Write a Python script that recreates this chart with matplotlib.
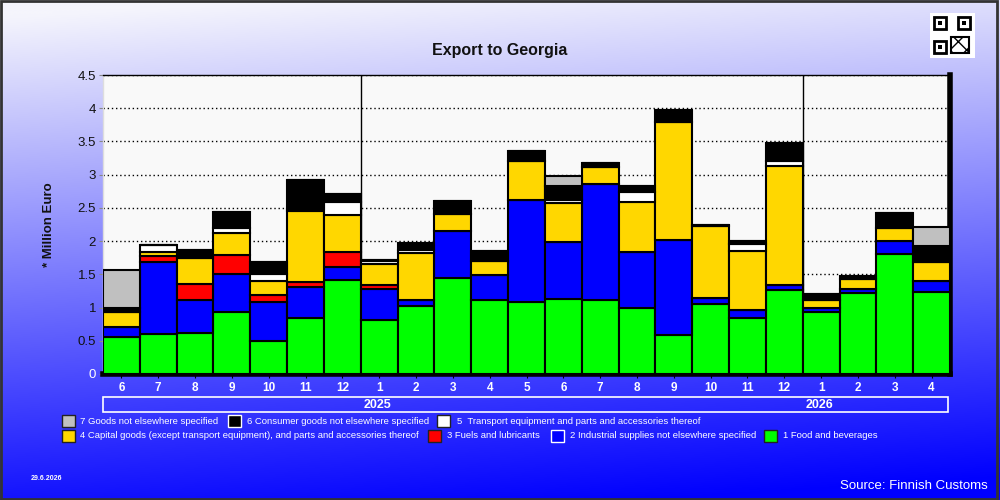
import numpy as np
import matplotlib
matplotlib.use("Agg")
import matplotlib.pyplot as plt
from matplotlib.patches import Rectangle

plt.rcParams['font.family'] = ['Liberation Sans', 'DejaVu Sans']

months = ['6', '7', '8', '9', '10', '11', '12',
          '1', '2', '3', '4', '5', '6', '7', '8', '9', '10', '11', '12',
          '1', '2', '3', '4']
years = ['2025', '2026']
year_start_idx = [7, 19]

food =       [0.56, 0.60, 0.61, 0.93, 0.49, 0.84, 1.41, 0.81, 1.02, 1.44, 1.11, 1.08, 1.125, 1.11, 1.00, 0.58, 1.05, 0.84, 1.26, 0.93, 1.215, 1.80, 1.23]
industrial = [0.14, 1.08, 0.51, 0.57, 0.59, 0.47, 0.20, 0.47, 0.09, 0.71, 0.38, 1.54, 0.86, 1.75, 0.83, 1.43, 0.10, 0.13, 0.08, 0.06, 0.065, 0.20, 0.17]
fuels =      [0.00, 0.09, 0.23, 0.29, 0.105, 0.07, 0.22, 0.06, 0.00, 0.00, 0.00, 0.00, 0.00, 0.00, 0.00, 0.00, 0.00, 0.00, 0.00, 0.00, 0.00, 0.00, 0.00]
capital =    [0.24, 0.06, 0.39, 0.33, 0.215, 1.07, 0.56, 0.32, 0.71, 0.26, 0.21, 0.58, 0.59, 0.25, 0.76, 1.78, 1.08, 0.88, 1.79, 0.12, 0.145, 0.19, 0.29]
transport =  [0.00, 0.11, 0.00, 0.08, 0.10, 0.04, 0.20, 0.04, 0.04, 0.00, 0.00, 0.00, 0.04, 0.00, 0.15, 0.00, 0.00, 0.10, 0.07, 0.00, 0.00, 0.00, 0.00]
consumer =   [0.06, 0.00, 0.13, 0.24, 0.19, 0.43, 0.12, 0.01, 0.11, 0.20, 0.15, 0.16, 0.22, 0.07, 0.09, 0.19, 0.01, 0.05, 0.28, 0.10, 0.045, 0.23, 0.24]
other =      [0.56, 0.00, 0.00, 0.00, 0.00, 0.00, 0.00, 0.00, 0.00, 0.00, 0.00, 0.00, 0.14, 0.00, 0.00, 0.00, 0.00, 0.00, 0.00, 0.00, 0.00, 0.00, 0.28]

series = [
    ('1 Food and beverages', food, '#00ff00'),
    ('2 Industrial supplies not elsewhere specified', industrial, '#0000ff'),
    ('3 Fuels and lubricants', fuels, '#ff0000'),
    ('4 Capital goods (except transport equipment), and parts and accessories thereof', capital, '#ffd700'),
    ('5  Transport equipment and parts and accessories thereof', transport, '#ffffff'),
    ('6 Consumer goods not elsewhere specified', consumer, '#000000'),
    ('7 Goods not elsewhere specified', other, '#c0c0c0'),
]

W, H = 1000, 500
fig = plt.figure(figsize=(10, 5), dpi=100)

# background gradient
bg = fig.add_axes([0, 0, 1, 1], zorder=-10)
yy, xx = np.mgrid[0:1:200j, 0:1:200j]
t = np.clip(0.95 * yy + 0.12 * xx - 0.03, 0, 1)
img = np.zeros((200, 200, 3))
img[..., 0] = (245 * (1 - t)) / 255
img[..., 1] = (245 * (1 - t)) / 255
img[..., 2] = (252 + 3 * t) / 255
bg.imshow(img, aspect='auto', extent=[0, 1, 0, 1], origin='upper')
bg.set_axis_off()

L, R, B, T = 103 / W, 950 / W, 1 - 374 / H, 1 - 75 / H
ax = fig.add_axes([L, B, R - L, T - B])
ax.set_facecolor('#f9f9f9')
x = np.arange(len(months))
bottom = np.zeros(len(months))
for name, vals, col in series:
    v = np.array(vals)
    ax.bar(x, v, width=1.0, bottom=bottom, color=col, edgecolor='black', linewidth=1.5, zorder=3)
    bottom += v

ax.set_xlim(-0.5, len(months) - 0.5)
ax.set_ylim(0, 4.5)
ax.set_yticks(np.arange(0, 4.51, 0.5))
ax.set_yticklabels(['0', '0.5', '1', '1.5', '2', '2.5', '3', '3.5', '4', '4.5'], fontsize=9.5, color='#111111')
ax.get_yticklabels()[0].set_color('white')
for yv in np.arange(0.5, 4.51, 0.5):
    ax.axhline(yv, color='black', linestyle=(0, (1, 2)), linewidth=1.0, zorder=1)
for i in year_start_idx:
    ax.axvline(i - 0.5, color='black', linewidth=1.0, zorder=2)
ax.set_xticks(x)
ax.set_xticklabels(months, color='white', fontsize=8.5, fontweight='bold')
ax.tick_params(axis='x', length=3, pad=3, color='black')
ax.tick_params(axis='y', length=3, pad=2, color='#888888')
for s in ['left', 'top']:
    ax.spines[s].set_linewidth(1.0)
ax.spines['left'].set_color('#dddddd')
ax.spines['top'].set_color('black')
ax.spines['right'].set_linewidth(4)
ax.spines['bottom'].set_linewidth(4)
ax.spines['right'].set_color('black')
ax.spines['bottom'].set_color('black')

ax.set_ylabel('* Million Euro', fontsize=9.5, fontweight='bold', color='#111111')
ax.yaxis.set_label_coords((55 - 103) / 847, 0.5)

# title
fig.text(500 / W, 1 - 50 / H, 'Export to Georgia', ha='center', va='center', fontsize=11.5, fontweight='bold', color='#111111')

# year band
fig.patches.append(Rectangle((103 / W, 1 - 412 / H), (948 - 103) / W, 15 / H, transform=fig.transFigure,
                             fill=False, edgecolor='white', linewidth=1.2))
bar_w = (R - L) / len(months)
for yr, i in zip(years, year_start_idx):
    fig.text(L + (i + 0.45) * bar_w, 1 - 404.5 / H, yr, ha='center', va='center', color='white', fontsize=9, fontweight='bold')

# legend
rows = [
    [(62, 80, 6), (228, 247, 5), (437, 457, 4)],
    [(62, 80, 3), (428, 447, 2), (551, 570, 1), (764, 783, 0)],
]
ycent = [421, 436]
for r, row in enumerate(rows):
    for sx, tx, si in row:
        name, vals, col = series[si]
        ec = 'white' if si in (5, 1) else '#222222'
        fig.patches.append(Rectangle((sx / W, 1 - (ycent[r] + 6) / H), 13 / W, 12 / H, transform=fig.transFigure,
                                     facecolor=col, edgecolor=ec, linewidth=1))
        fig.text(tx / W, 1 - ycent[r] / H, name, ha='left', va='center', color='white', fontsize=6.8)

fig.text(31 / W, 1 - 479 / H, '29.6.2026', ha='left', va='center', color='white', fontsize=5, fontweight='bold')
fig.text(988 / W, 1 - 486 / H, 'Source: Finnish Customs', ha='right', va='center', color='white', fontsize=9.5)

# QR-like badge
qx, qy, qs = 930, 13, 45
fig.patches.append(Rectangle((qx / W, 1 - (qy + qs) / H), qs / W, qs / H, transform=fig.transFigure,
                             facecolor='white', edgecolor='none'))
for (fx, fy) in [(4, 4), (28, 4), (4, 28)]:
    fig.patches.append(Rectangle(((qx + fx) / W, 1 - (qy + fy + 12) / H), 12 / W, 12 / H, transform=fig.transFigure,
                                 facecolor='none', edgecolor='black', linewidth=2))
    fig.patches.append(Rectangle(((qx + fx + 4) / W, 1 - (qy + fy + 8) / H), 4 / W, 4 / H, transform=fig.transFigure,
                                 facecolor='black', edgecolor='none'))
fig.patches.append(Rectangle(((qx + 21) / W, 1 - (qy + 40) / H), 18 / W, 16 / H, transform=fig.transFigure,
                             facecolor='none', edgecolor='black', linewidth=1.5, hatch='xx'))

# figure border
fig.patches.append(Rectangle((0.001, 0.003), 0.996, 0.995, transform=fig.transFigure, fill=False,
                             edgecolor='#333333', linewidth=2))

fig.savefig('out.png', dpi=100)
